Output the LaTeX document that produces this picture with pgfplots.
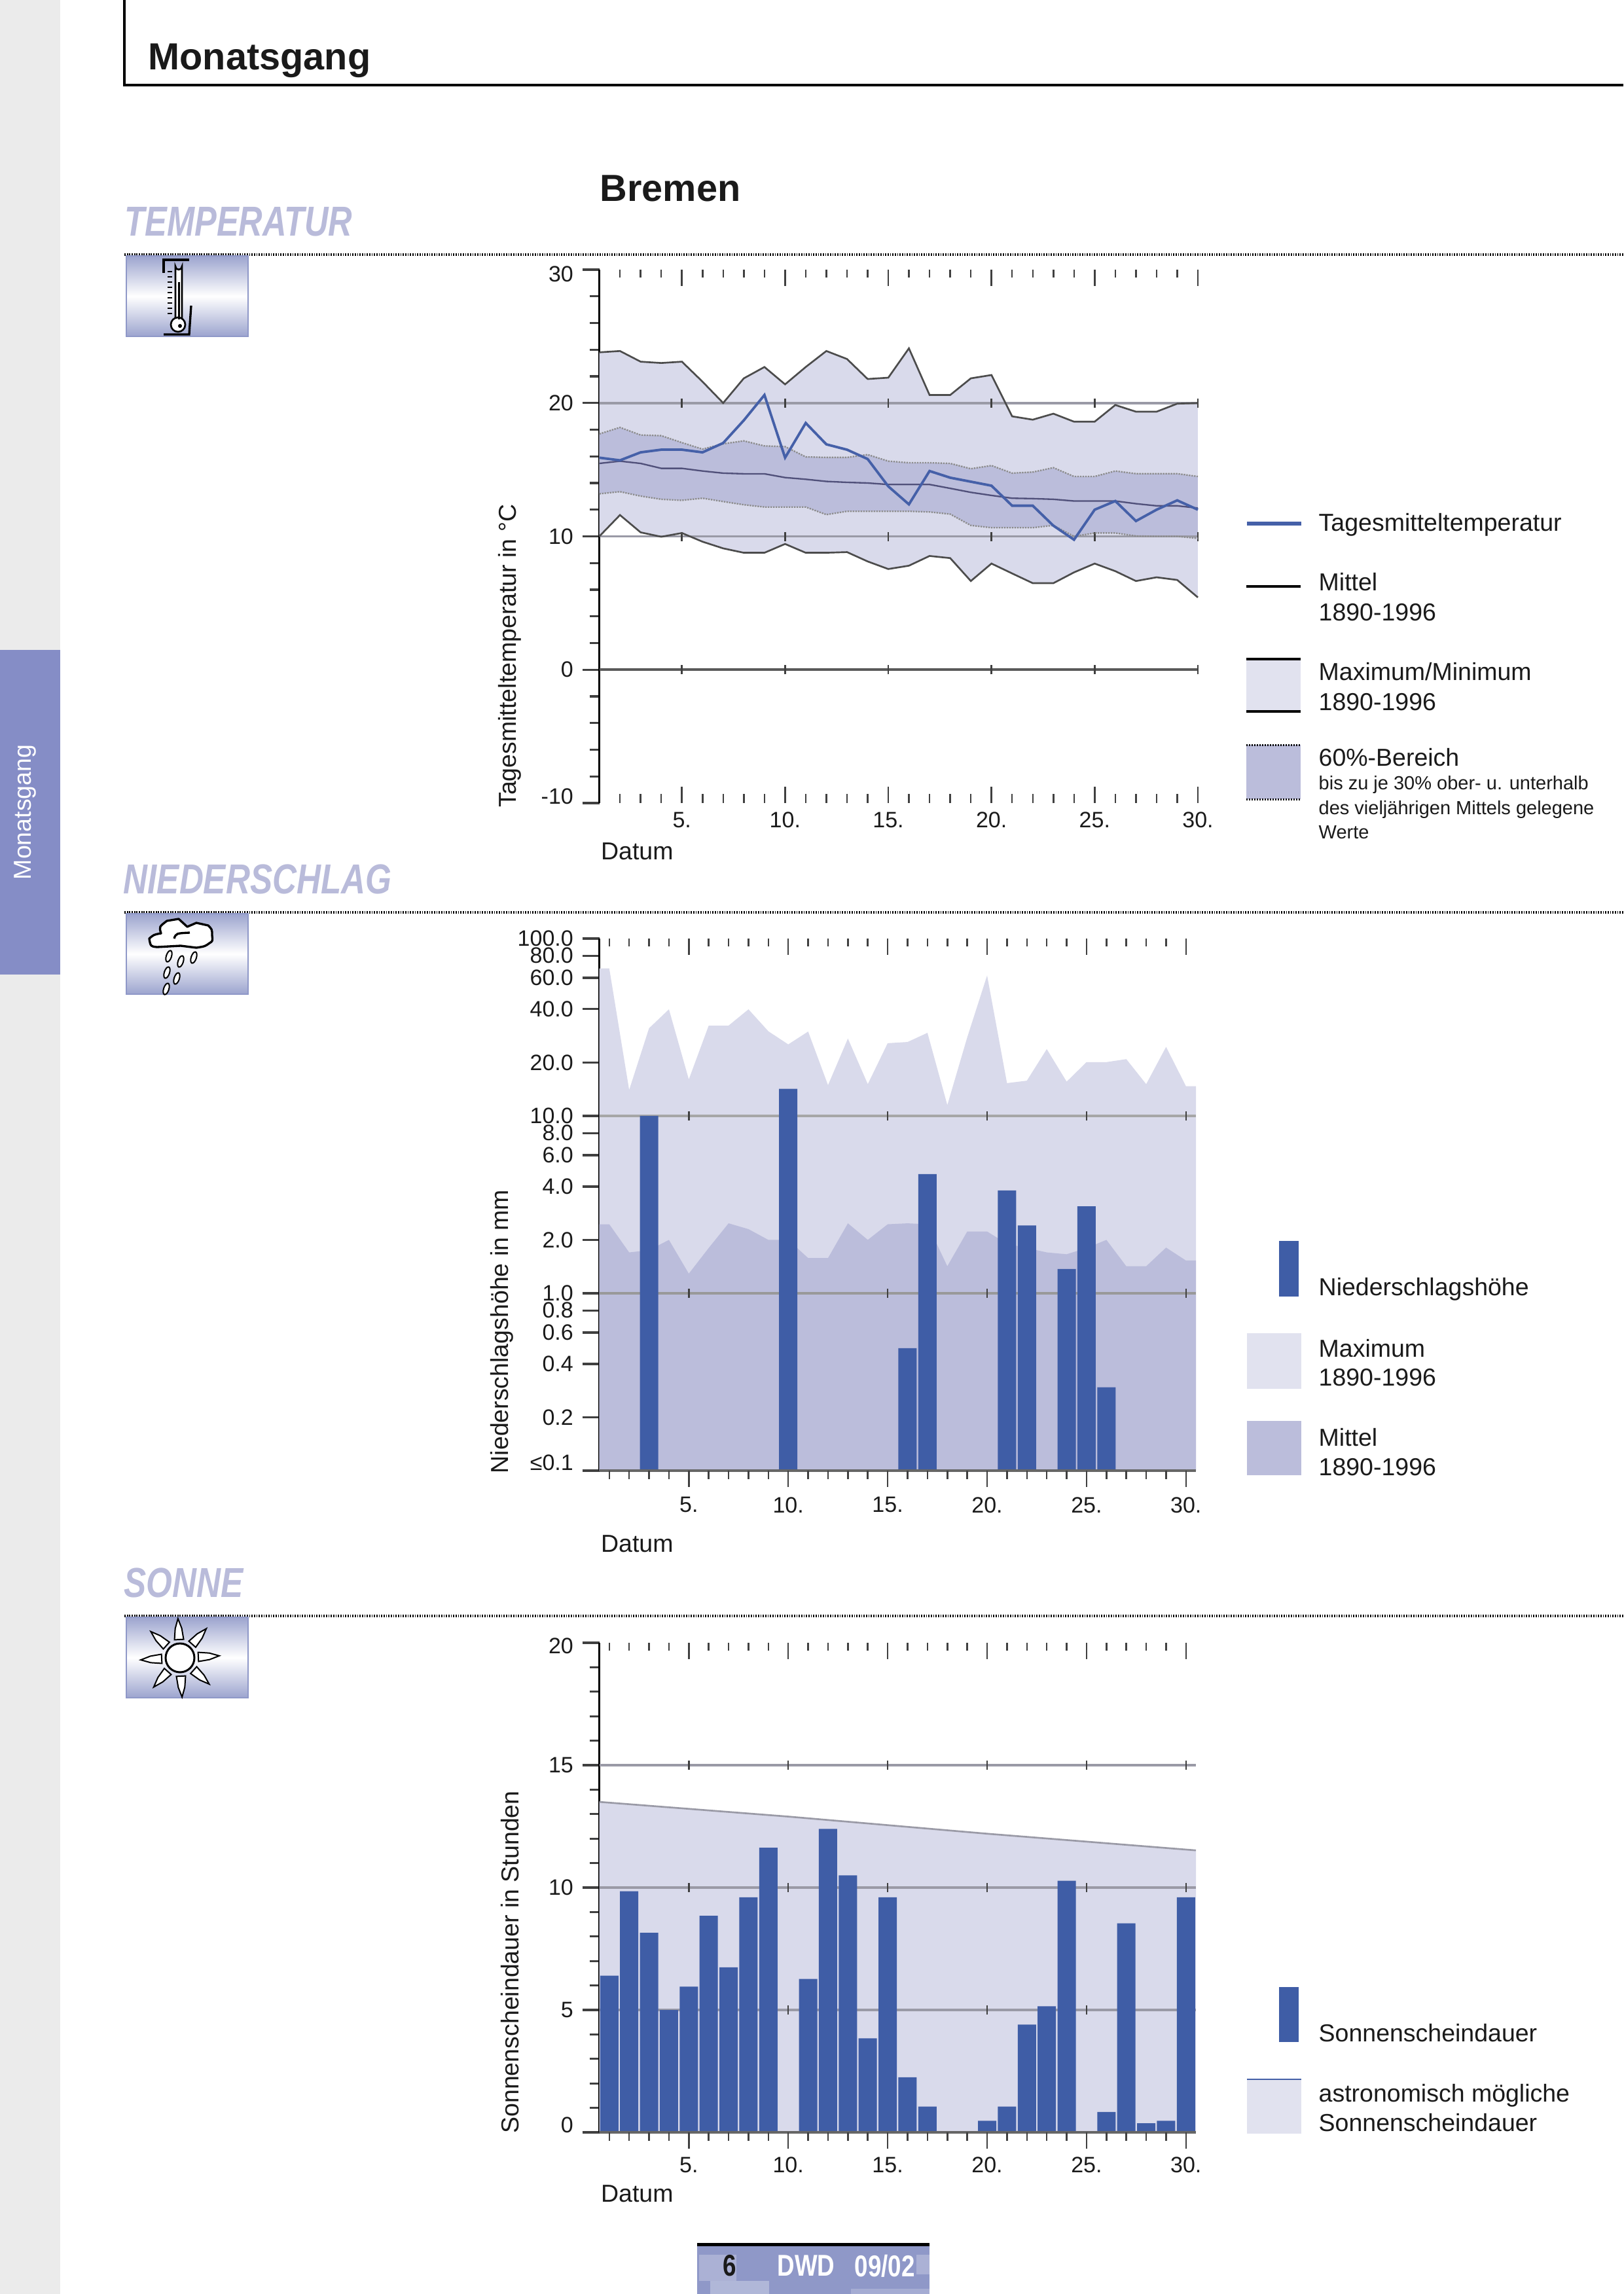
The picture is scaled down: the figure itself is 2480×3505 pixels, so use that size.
\documentclass[border=0pt]{standalone}
\usepackage{fontspec}
\setmainfont{Liberation Sans}
\usepackage{pgfplots}
\usepackage{pgfplotstable}
\pgfplotsset{compat=1.18}
\definecolor{bandA}{HTML}{D9DAEB}
\definecolor{bandB}{HTML}{BBBDDB}
\definecolor{legA}{HTML}{E1E2EF}
\definecolor{blueL}{HTML}{4560A8}
\definecolor{blueB}{HTML}{3F5DA6}
\definecolor{gridc}{HTML}{9A9AA6}
\definecolor{hdc}{HTML}{B9BBDA}
\definecolor{tabc}{HTML}{858DC6}
\definecolor{txt}{HTML}{1A1A1A}
\definecolor{tkc}{HTML}{404040}
\definecolor{footc}{HTML}{8F98C8}
\definecolor{meanc}{HTML}{50507A}

\pgfplotstableread{
day max up mean low min tag
1 23.8 17.68 15.47 13.19 10.0 15.9
2 23.9 18.17 15.64 13.35 11.6 15.7
3 23.1 17.6 15.47 13.02 10.3 16.3
4 23.0 17.55 15.1 12.78 9.97 16.5
5 23.1 17.03 15.1 12.7 10.25 16.5
6 21.6 16.54 14.9 12.86 9.6 16.3
7 20.0 16.94 14.74 12.61 9.1 17.0
8 21.85 17.16 14.69 12.37 8.77 18.7
9 22.7 16.78 14.69 12.2 8.77 20.6
10 21.4 16.73 14.41 12.2 9.43 15.9
11 22.7 15.96 14.28 12.2 8.77 18.5
12 23.9 15.92 14.12 11.63 8.77 16.9
13 23.3 15.92 14.05 11.88 8.82 16.5
14 21.8 16.13 14.0 11.88 8.12 15.8
15 21.9 15.64 13.89 11.88 7.55 13.75
16 24.1 15.52 13.89 11.88 7.8 12.4
17 20.6 15.52 13.89 11.83 8.53 14.9
18 20.6 15.47 13.6 11.67 8.37 14.4
19 21.85 15.07 13.3 10.82 6.65 14.1
20 22.1 15.31 13.07 10.65 7.96 13.8
21 19.0 14.74 12.86 10.65 7.22 12.3
22 18.75 14.82 12.83 10.65 6.49 12.3
23 19.2 15.15 12.78 10.82 6.49 10.8
24 18.6 14.49 12.65 10.0 7.3 9.75
25 18.6 14.49 12.65 10.25 7.96 12.0
26 19.85 14.9 12.65 10.25 7.39 12.65
27 19.35 14.7 12.45 10.03 6.65 11.15
28 19.35 14.7 12.29 10.0 6.93 12.0
29 19.95 14.7 12.29 10.0 6.73 12.7
30 20.0 14.49 12.12 9.85 5.42 12.0
}\tempdata

% closed outlines of the two bands (upper edge, then lower edge backwards)
\pgfplotstableread{
day val
1 23.8
2 23.9
3 23.1
4 23.0
5 23.1
6 21.6
7 20.0
8 21.85
9 22.7
10 21.4
11 22.7
12 23.9
13 23.3
14 21.8
15 21.9
16 24.1
17 20.6
18 20.6
19 21.85
20 22.1
21 19.0
22 18.75
23 19.2
24 18.6
25 18.6
26 19.85
27 19.35
28 19.35
29 19.95
30 20.0
30 5.42
29 6.73
28 6.93
27 6.65
26 7.39
25 7.96
24 7.3
23 6.49
22 6.49
21 7.22
20 7.96
19 6.65
18 8.37
17 8.53
16 7.8
15 7.55
14 8.12
13 8.82
12 8.77
11 8.77
10 9.43
9 8.77
8 8.77
7 9.1
6 9.6
5 10.25
4 9.97
3 10.3
2 11.6
1 10.0
}\outerband

\pgfplotstableread{
day val
1 17.68
2 18.17
3 17.6
4 17.55
5 17.03
6 16.54
7 16.94
8 17.16
9 16.78
10 16.73
11 15.96
12 15.92
13 15.92
14 16.13
15 15.64
16 15.52
17 15.52
18 15.47
19 15.07
20 15.31
21 14.74
22 14.82
23 15.15
24 14.49
25 14.49
26 14.9
27 14.7
28 14.7
29 14.7
30 14.49
30 9.85
29 10.0
28 10.0
27 10.03
26 10.25
25 10.25
24 10.0
23 10.82
22 10.65
21 10.65
20 10.65
19 10.82
18 11.67
17 11.83
16 11.88
15 11.88
14 11.88
13 11.88
12 11.63
11 12.2
10 12.2
9 12.2
8 12.37
7 12.61
6 12.86
5 12.7
4 12.78
3 13.02
2 13.35
1 13.19
}\innerband

\pgfplotstableread{
day max mean
0.5 67.8 2.45
1 67.8 2.45
2 14.0 1.7
3 31.2 1.75
4 39.9 2.0
5 16.05 1.29
6 32.3 1.8
7 32.3 2.48
8 39.9 2.3
9 30.0 2.0
10 25.3 2.0
11 29.9 1.58
12 14.9 1.58
13 27.3 2.48
14 15.1 2.0
15 25.7 2.45
16 26.1 2.48
17 29.4 2.45
18 11.5 1.42
19 27.7 2.23
20 61.9 2.23
21 15.3 1.9
22 15.8 1.8
23 23.8 1.7
24 15.6 1.66
25 20.1 1.8
26 20.1 2.0
27 20.9 1.42
28 15.1 1.42
29 24.5 1.81
30 14.7 1.53
30.5 14.7 1.53
30.5 0.1 0.1
0.5 0.1 0.1
}\precarea

\pgfplotstableread{
day val
3 10.0
10 14.2
16 0.49
17 4.7
21 3.8
22 2.41
24 1.37
25 3.09
26 0.295
}\precbars

\pgfplotstableread{
day val
1 6.4
2 9.85
3 8.15
4 5.0
5 5.95
6 8.85
7 6.74
8 9.6
9 11.63
10 0
11 6.27
12 12.4
13 10.5
14 3.84
15 9.6
16 2.25
17 1.05
18 0
19 0
20 0.47
21 1.05
22 4.4
23 5.15
24 10.28
25 0
26 0.83
27 8.54
28 0.37
29 0.47
30 9.6
}\sunbars

\newcommand\lfont{\fontsize{11.25}{11.25}\selectfont}
\tikzset{tk/.style={draw=tkc,line width=0.75pt},
  lt/.style={anchor=base west,inner sep=0pt,text=txt,font=\lfont},
  lts/.style={anchor=base west,inner sep=0pt,text=txt,font=\fontsize{8.7}{8.7}\selectfont},
  hd/.style={anchor=base west,inner sep=0pt,text=hdc,font=\fontsize{19.2}{19.2}\selectfont\bfseries\itshape}}

% tick rows: #1 y value, #2 offset
\newcommand\RowMinorA[2]{\pgfplotsinvokeforeach{2,3,4,6,7,8,9,11,12,13,14,16,17,18,19,21,22,23,24,26,27,28,29}{\draw[tk] (axis cs:##1,#1) -- ++(0pt,#2);}}
\newcommand\RowMinorB[2]{\pgfplotsinvokeforeach{1,2,3,4,6,7,8,9,11,12,13,14,16,17,18,19,21,22,23,24,26,27,28,29}{\draw[tk] (axis cs:##1,#1) -- ++(0pt,#2);}}
\newcommand\RowMajor[2]{\pgfplotsinvokeforeach{5,10,15,20,25,30}{\draw[tk] (axis cs:##1,#1) -- ++(0pt,#2);}}
\newcommand\GridTicks[1]{\pgfplotsinvokeforeach{5,10,15,20,25,30}{\draw[tk] ([yshift=-2.1pt]axis cs:##1,#1) -- ++(0pt,4.2pt);}}
% tick label moved up (depth padding) or down (height padding)
\newcommand\tlup[2]{\rule[-#1]{0pt}{1pt}#2}
\newcommand\tldn[2]{\rule{0pt}{#1}#2}

\pgfplotsset{pagechart/.style={
  scale only axis, clip=false,
  axis lines*=left,
  x axis line style={draw=none},
  y axis line style={black,line width=1pt,-},
  xtick={5,10,15,20,25,30},
  xticklabels={5.,10.,15.,20.,25.,30.},
  xtick style={draw=none},
  major x tick style={draw=none},
  ytick style={draw=tkc,line width=1pt},
  tick align=outside,
  major tick length=7.8pt,
  minor tick length=4.5pt,
  tick label style={font=\fontsize{10.2}{10.2}\selectfont,text=txt},
  xlabel={Datum},
  y tick label style={anchor=east,xshift=-0.6pt},
}}

\begin{document}
\begin{tikzpicture}[x=0.3pt,y=-0.3pt]
\path[use as bounding box] (0,0) rectangle (2480,3505);
\fill[white] (0,0) rectangle (2480,3505);
% side strip
\fill[black!8] (0,0) rectangle (92,3505);
\fill[tabc] (0,993) rectangle (92,1489);
\node[rotate=90,text=white,inner sep=0pt,font=\lfont] at (38,1241) {Monatsgang};
% header
\draw[black,line width=1.1pt] (190,0) -- (190,130) -- (2480,130);
\node[anchor=base west,inner sep=0pt,text=txt,font=\fontsize{17.3}{17.3}\selectfont\bfseries] at (226,107) {Monatsgang};
\node[anchor=base west,inner sep=0pt,text=txt,font=\fontsize{17.3}{17.3}\selectfont\bfseries] at (916,308) {Bremen};
% section headings
\node[hd] at (190,361) {\scalebox{.79}[1]{TEMPERATUR}};
\node[hd] at (188,1365) {\scalebox{.8}[1]{NIEDERSCHLAG}};
\node[hd] at (189,2440) {\scalebox{.8}[1]{SONNE}};
% dotted rules
\foreach \yy in {389,1394,2469}{\draw[black,line width=1pt,dash pattern=on .55pt off .55pt] (190,\yy) -- (2480,\yy);}
% icon backgrounds
\foreach \yy in {391,1396,2471}{
  \begin{scope}
  \clip (193,\yy) rectangle (379,\yy+123);
  \shade[shading angle=9,top color=footc,bottom color=footc,middle color=white] (180,\yy-8) rectangle (392,\yy+131);
  \end{scope}
  \draw[footc,line width=.5pt] (193,\yy) rectangle (379,\yy+123);
}
% thermometer
\begin{scope}[shift={(193,391)}]
\draw[black,line width=1pt] (57,26) -- (57,6) -- (96,6);
\draw[black,line width=1pt] (57,120) -- (96,120) -- (99,76);
\draw[black,fill=white,line width=.8pt] (75,96) -- (75,16) arc[start angle=180,end angle=0,radius=5] -- (85,96);
\draw[black,line width=.8pt,fill=white] (79,105) circle[radius=11];
\draw[black,line width=.9pt] (80,40) -- (80,97);
\foreach \t in {24,32,40,48,56,64,72,80,88}{\draw[black,line width=.6pt] (63,\t) -- (70,\t);}
\fill[black] (82,107) circle[radius=3];
\end{scope}
% cloud
\begin{scope}[shift={(193,1396)}]
\draw[black,fill=white,line width=1pt,line join=round] (35,38) .. controls (42,32) .. (53,30) .. controls (50,20) .. (62,11) -- (80,8) -- (93,20) -- (107,14) -- (125,18) .. controls (131,24) .. (131,33) .. controls (132,42) .. (127,45) .. controls (120,50) .. (107,52) -- (83,49) -- (47,51) .. controls (37,50) .. (35,38) -- cycle;
\draw[black,line width=1pt] (73,38) .. controls (76,30) .. (97,29);
\foreach \a/\b in {65/65,83/73,103/67,62/90,77/99,61/115}{
  \draw[black,fill=white,line width=.6pt] (\a,\b) ellipse[x radius=4,y radius=9,rotate=-18];
}
\end{scope}
% sun
\begin{scope}[shift={(275,2533)}]
\draw[black,fill=white,line width=.9pt] (0,0) circle[radius=22];
\foreach \r in {3,48,93,138,183,228,273,318}{
  \draw[black,fill=white,line width=.6pt,rotate=\r] (28,-7) -- (28,7) -- (45,5) -- (60,0) -- (45,-5) -- cycle;
}
\end{scope}

% ---------- chart 1
\begin{axis}[pagechart,
  at={(274.68pt,-368.1pt)},anchor=south west,
  width=274.32pt,height=244.5pt,
  xmin=1,xmax=30,ymin=-10,ymax=30,
  ytick={-10,0,10,20,30},
  yticklabels={\tlup{6pt}{-10},0,10,20,\tldn{11.3pt}{30}},
  minor ytick={-8,-6,-4,-2,2,4,6,8,12,14,16,18,22,24,26,28},
  x tick label style={anchor=center,yshift=0pt},
  every axis y label/.style={at={(axis description cs:-0.15,-0.009)},rotate=90,anchor=west,inner sep=0pt,font=\lfont,text=txt},
  ylabel={Tagesmitteltemperatur in °C},
  every axis x label/.style={at={(axis description cs:0.002,-0.09)},anchor=west,inner sep=0pt,font=\lfont,text=txt},
]
\addplot[fill=bandA,draw=none] table[x=day,y=val]{\outerband};
\addplot[fill=bandB,draw=none] table[x=day,y=val]{\innerband};
\draw[gridc,line width=1.1pt] (axis cs:1,20) -- (axis cs:30,20);
\draw[gridc,line width=1.1pt] (axis cs:1,10) -- (axis cs:30,10);
\draw[black!65,line width=1.1pt] (axis cs:1,0) -- (axis cs:30,0);
\GridTicks{20}\GridTicks{10}\GridTicks{0}
\RowMinorA{30}{-3.6pt}\RowMajor{30}{-7.5pt}
\RowMinorA{-10}{4.2pt}\RowMajor{-10}{7.5pt}
\addplot[draw=black!70,line width=.8pt] table[x=day,y=max]{\tempdata};
\addplot[draw=black!70,line width=.8pt] table[x=day,y=min]{\tempdata};
\addplot[draw=black!45,line width=.7pt,dash pattern=on .7pt off .5pt] table[x=day,y=up]{\tempdata};
\addplot[draw=black!45,line width=.7pt,dash pattern=on .7pt off .5pt] table[x=day,y=low]{\tempdata};
\addplot[draw=meanc,line width=.7pt] table[x=day,y=mean]{\tempdata};
\addplot[draw=blueL,line width=1.15pt] table[x=day,y=tag]{\tempdata};
\end{axis}

% legend 1
\draw[blueL,line width=2pt] (1905,800) -- (1988,800);
\node[lt] at (2014,811) {Tagesmitteltemperatur};
\draw[black,line width=1pt] (1904,896) -- (1987,896);
\node[lt] at (2014,902) {Mittel};
\node[lt] at (2014,948) {1890-1996};
\fill[legA] (1904,1007) rectangle (1987,1087);
\draw[black,line width=1.1pt] (1904,1007) -- (1987,1007) (1904,1087) -- (1987,1087);
\node[lt] at (2014,1039) {Maximum/Minimum};
\node[lt] at (2014,1085) {1890-1996};
\fill[bandB] (1904,1138) rectangle (1987,1221);
\draw[black,line width=.9pt,dash pattern=on .6pt off .6pt] (1904,1138) -- (1987,1138) (1904,1221) -- (1987,1221);
\node[lt] at (2014,1170) {60\%-Bereich};
\node[lts] at (2014,1206) {bis zu je 30\% ober- u. unterhalb};
\node[lts] at (2014,1244) {des vieljährigen Mittels gelegene};
\node[lts] at (2014,1281) {Werte};

% ---------- chart 2
\begin{axis}[pagechart,
  at={(274.68pt,-674.1pt)},anchor=south west,
  width=273.42pt,height=243.9pt,
  xmin=0.5,xmax=30.5,ymin=0.1,ymax=100,
  ymode=log,log origin=infty,
  ytick={0.1,0.2,0.4,0.6,0.8,1,2,4,6,8,10,20,40,60,80,100},
  yticklabels={\tlup{7.2pt}{≤0.1},0.2,0.4,0.6,0.8,1.0,2.0,4.0,6.0,8.0,10.0,20.0,40.0,60.0,80.0,100.0},
  minor tick num=0,
  x tick label style={anchor=center,yshift=-7.9pt},
  every axis y label/.style={at={(axis description cs:-0.163,-0.006)},rotate=90,anchor=west,inner sep=0pt,font=\lfont,text=txt},
  ylabel={Niederschlagshöhe in mm},
  every axis x label/.style={at={(axis description cs:0.002,-0.138)},anchor=west,inner sep=0pt,font=\lfont,text=txt},
]
\addplot[fill=bandA,draw=none] table[x=day,y=max]{\precarea};
\addplot[fill=bandB,draw=none] table[x=day,y=mean]{\precarea};
\draw[black!35,line width=1.3pt] (axis cs:0.5,10) -- (axis cs:30.5,10);
\draw[black!40,line width=1.3pt] (axis cs:0.5,1) -- (axis cs:30.5,1);
\GridTicks{10}\GridTicks{1}
\addplot[ybar,bar width=8.4pt,bar shift=0pt,fill=blueB,draw=none] table[x=day,y=val]{\precbars};
\draw[black!60,line width=1.1pt] (axis cs:0.5,0.1) -- (axis cs:30.5,0.1);
\RowMinorB{100}{-3.6pt}\RowMajor{100}{-7.5pt}
\RowMinorB{0.1}{-3.9pt}\RowMajor{0.1}{-7.5pt}
\end{axis}

% legend 2
\fill[blueB] (1954,1896) rectangle (1984,1981);
\node[lt] at (2014,1979) {Niederschlagshöhe};
\fill[legA] (1905,2037) rectangle (1988,2122);
\node[lt] at (2014,2073) {Maximum};
\node[lt] at (2014,2117) {1890-1996};
\fill[bandB] (1905,2171) rectangle (1988,2254);
\node[lt] at (2014,2209) {Mittel};
\node[lt] at (2014,2254) {1890-1996};

% ---------- chart 3
\begin{axis}[pagechart,
  at={(274.68pt,-977.4pt)},anchor=south west,
  width=273.42pt,height=224.4pt,
  xmin=0.5,xmax=30.5,ymin=0,ymax=20,
  ytick={0,5,10,15,20},
  yticklabels={\tlup{7pt}{0},5,10,15,\tldn{9.7pt}{20}},
  minor ytick={1,2,3,4,6,7,8,9,11,12,13,14,16,17,18,19},
  x tick label style={anchor=center,yshift=-7.2pt},
  every axis y label/.style={at={(axis description cs:-0.15,-0.003)},rotate=90,anchor=west,inner sep=0pt,font=\lfont,text=txt},
  ylabel={Sonnenscheindauer in Stunden},
  every axis x label/.style={at={(axis description cs:0.002,-0.125)},anchor=west,inner sep=0pt,font=\lfont,text=txt},
]
\addplot[fill=bandA,draw=none] coordinates {(0.5,13.5) (10,12.9) (20,12.2) (30.5,11.52) (30.5,0) (0.5,0)};
\addplot[draw=gridc,line width=.8pt] coordinates {(0.5,13.5) (10,12.9) (20,12.2) (30.5,11.52)};
\draw[gridc,line width=1.1pt] (axis cs:0.5,15) -- (axis cs:30.5,15);
\draw[gridc,line width=1.1pt] (axis cs:0.5,10) -- (axis cs:30.5,10);
\draw[gridc,line width=1.1pt] (axis cs:0.5,5) -- (axis cs:30.5,5);
\GridTicks{15}\GridTicks{10}\GridTicks{5}
\addplot[ybar,bar width=8.4pt,bar shift=0pt,fill=blueB,draw=none] table[x=day,y=val]{\sunbars};
\draw[black!60,line width=1.1pt] (axis cs:0.5,0) -- (axis cs:30.5,0);
\RowMinorB{20}{-3.6pt}\RowMajor{20}{-7.5pt}
\RowMinorB{0}{-3.9pt}\RowMajor{0}{-7.5pt}
\end{axis}

% legend 3
\fill[blueB] (1954,3036) rectangle (1984,3120);
\node[lt] at (2014,3119) {Sonnenscheindauer};
\fill[legA] (1905,3177) rectangle (1988,3260);
\draw[blueL,line width=.8pt] (1905,3177) -- (1988,3177);
\node[lt] at (2014,3211) {astronomisch mögliche};
\node[lt] at (2014,3256) {Sonnenscheindauer};

% footer
\fill[footc] (1065,3432) rectangle (1420,3505);
\fill[white,opacity=.25] (1068,3445) rectangle (1125,3485);
\fill[white,opacity=.3] (1085,3485) rectangle (1175,3505);
\fill[white,opacity=.25] (1400,3445) rectangle (1420,3475);
\fill[white,opacity=.2] (1300,3497) rectangle (1420,3505);
\fill[black] (1065,3427) rectangle (1420,3432);
\node[inner sep=0pt,text=txt,font=\fontsize{13.8}{13.8}\selectfont\bfseries] at (1115,3462) {\scalebox{.8}[1]{6}};
\node[anchor=west,inner sep=0pt,text=white,font=\fontsize{13.8}{13.8}\selectfont\bfseries] at (1187,3462) {\scalebox{.8}[1]{DWD}};
\node[anchor=west,inner sep=0pt,text=white,font=\fontsize{13.8}{13.8}\selectfont\bfseries] at (1305,3462) {\scalebox{.8}[1]{09/02}};
\end{tikzpicture}
\end{document}
